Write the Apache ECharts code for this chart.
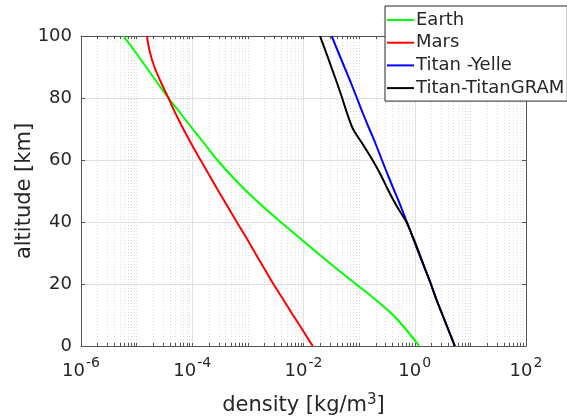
<!DOCTYPE html>
<html>
<head>
<meta charset="utf-8">
<script src="https://cdn.jsdelivr.net/npm/echarts@6/dist/echarts.min.js"></script>
<style>html,body{margin:0;padding:0;background:#fff;}#c{width:567px;height:418px;}</style>
</head>
<body>
<div id="c"></div>
<script>
// altitude [km]
const altitude = [0, 5, 10, 15, 20, 25, 30, 35, 40, 45, 50, 55, 60, 65, 70, 75, 80, 85, 90, 95, 100];
// density [kg/m^3]
const rhoEarth = [1.20, 0.724, 0.407, 0.195, 0.0871, 0.0389, 0.0178, 0.00832, 0.00389, 0.00186, 9.33e-4, 5.01e-4, 2.82e-4, 1.70e-4, 1.02e-4, 6.17e-5, 3.72e-5, 2.34e-5, 1.48e-5, 9.33e-6, 5.82e-6];
const rhoMars = [0.01462, 0.00977, 0.00646, 0.00432, 0.00288, 0.00197, 0.00135, 9.33e-4, 6.31e-4, 4.32e-4, 2.95e-4, 2.04e-4, 1.41e-4, 9.77e-5, 6.92e-5, 5.01e-5, 3.74e-5, 2.75e-5, 2.09e-5, 1.72e-5, 1.53e-5];
const rhoTitanYelle = [5.25, 4.07, 3.16, 2.45, 1.95, 1.51, 1.175, 0.923, 0.724, 0.562, 0.431, 0.331, 0.257, 0.200, 0.153, 0.117, 0.0912, 0.0708, 0.0543, 0.0417, 0.0321];
const rhoTitanGRAM = [5.25, 4.07, 3.16, 2.45, 1.95, 1.53, 1.20, 0.933, 0.708, 0.479, 0.339, 0.248, 0.174, 0.117, 0.0776, 0.0610, 0.0495, 0.0398, 0.0316, 0.0251, 0.0198];

const seriesNames = ['Earth', 'Mars', 'Titan -Yelle', 'Titan-TitanGRAM'];
const seriesColors = ['#00ff00', '#ff0000', '#0000ff', '#000000'];
const seriesRho = [rhoEarth, rhoMars, rhoTitanYelle, rhoTitanGRAM];

// tick values
const xMajorLabelTicks = [1e-6, 1e-4, 1e-2, 1, 1e2];
const xDecades = [-6, -5, -4, -3, -2, -1, 0, 1];
const xMinorMultipliers = [1, 2, 3, 4, 5, 6, 7, 8, 9];

const xAllTicks = [];
xDecades.forEach(function (e) {
  xMinorMultipliers.forEach(function (m) {
    xAllTicks.push(parseFloat((m * Math.pow(10, e)).toPrecision(6)));
  });
});
xAllTicks.push(1e2);

const FONT = 'DejaVu Sans';
const TXT = '#262626';
const AX = '#555555';

const chart = echarts.init(document.getElementById('c'), null, {renderer: 'canvas'});

function expLabel(v) {
  const e = Math.round(Math.log10(v));
  return '{b|10}{s|' + e + '}';
}

const labelRich = {
  b: {fontFamily: FONT, fontSize: 18, color: TXT, lineHeight: 24, verticalAlign: 'bottom'},
  s: {fontFamily: FONT, fontSize: 14, color: TXT, lineHeight: 14, verticalAlign: 'top', padding: [0, 0, 0, 1]}
};

const option = {
  animation: false,
  backgroundColor: '#ffffff',
  textStyle: {fontFamily: FONT},
  grid: {left: 81, right: 41, top: 36, bottom: 72, containLabel: false, outerBoundsMode: 'none'},
  legend: {
    orient: 'vertical',
    left: 385,
    top: 6,
    data: seriesNames,
    icon: 'rect',
    backgroundColor: '#ffffff',
    borderColor: '#262626',
    borderWidth: 1,
    borderRadius: 0,
    padding: [5, 3, 4, 2],
    itemGap: 4.7,
    itemWidth: 27,
    itemHeight: 2,
    textStyle: {fontFamily: FONT, fontSize: 18, color: TXT, lineHeight: 17, padding: [0, 0, 0, -3]}
  },
  xAxis: [
    {
      type: 'log', logBase: 10, position: 'bottom', min: 1e-6, max: 1e2,
      axisLine: {show: true, lineStyle: {color: AX, width: 1}},
      axisTick: {show: true, inside: true, length: 3, customValues: xAllTicks, lineStyle: {color: AX}},
      axisLabel: {show: true, customValues: xMajorLabelTicks, formatter: expLabel, rich: labelRich, margin: 10},
      splitLine: {show: true, lineStyle: {color: '#dddddd', type: [1, 2], width: 1}},
      name: 'density [kg/m{sup|3}]',
      nameLocation: 'middle',
      nameGap: 47,
      nameMoveOverlap: false,
      nameTextStyle: {
        fontFamily: FONT, fontSize: 21, color: TXT,
        rich: {sup: {fontFamily: FONT, fontSize: 15, color: TXT, verticalAlign: 'top', lineHeight: 26}}
      }
    },
    {
      type: 'log', logBase: 10, position: 'bottom', min: 1e-6, max: 1e2,
      axisLine: {show: false},
      axisTick: {show: false, customValues: xMajorLabelTicks},
      axisLabel: {show: false, customValues: xMajorLabelTicks},
      splitLine: {show: true, lineStyle: {color: '#e0e0e0', width: 1}}
    },
    {
      type: 'log', logBase: 10, position: 'top', min: 1e-6, max: 1e2,
      axisLine: {show: true, lineStyle: {color: AX, width: 1}},
      axisTick: {show: true, inside: true, length: 3, customValues: xAllTicks, lineStyle: {color: AX}},
      axisLabel: {show: false},
      splitLine: {show: false}
    }
  ],
  yAxis: [
    {
      type: 'value', position: 'left', min: 0, max: 100, interval: 20,
      axisLine: {show: true, lineStyle: {color: AX, width: 1}},
      axisTick: {show: true, inside: true, length: 4, lineStyle: {color: AX}},
      axisLabel: {fontFamily: FONT, fontSize: 18, color: TXT, margin: 9},
      splitLine: {show: true, lineStyle: {color: '#e0e0e0', width: 1}},
      name: 'altitude [km]',
      nameLocation: 'middle',
      nameGap: 46,
      nameMoveOverlap: false,
      nameTextStyle: {fontFamily: FONT, fontSize: 21, color: TXT}
    },
    {
      type: 'value', position: 'right', min: 0, max: 100, interval: 20,
      axisLine: {show: true, lineStyle: {color: AX, width: 1}},
      axisTick: {show: true, inside: true, length: 4, lineStyle: {color: AX}},
      axisLabel: {show: false},
      splitLine: {show: false}
    }
  ],
  series: seriesNames.map(function (name, i) {
    return {
      name: name,
      type: 'line',
      xAxisIndex: 0,
      yAxisIndex: 0,
      showSymbol: false,
      symbol: 'none',
      smooth: 0.3,
      lineStyle: {color: seriesColors[i], width: 2},
      itemStyle: {color: seriesColors[i]},
      data: altitude.map(function (a, k) { return [seriesRho[i][k], a]; }),
      z: 3 + i
    };
  })
};

chart.setOption(option);
</script>
</body>
</html>
